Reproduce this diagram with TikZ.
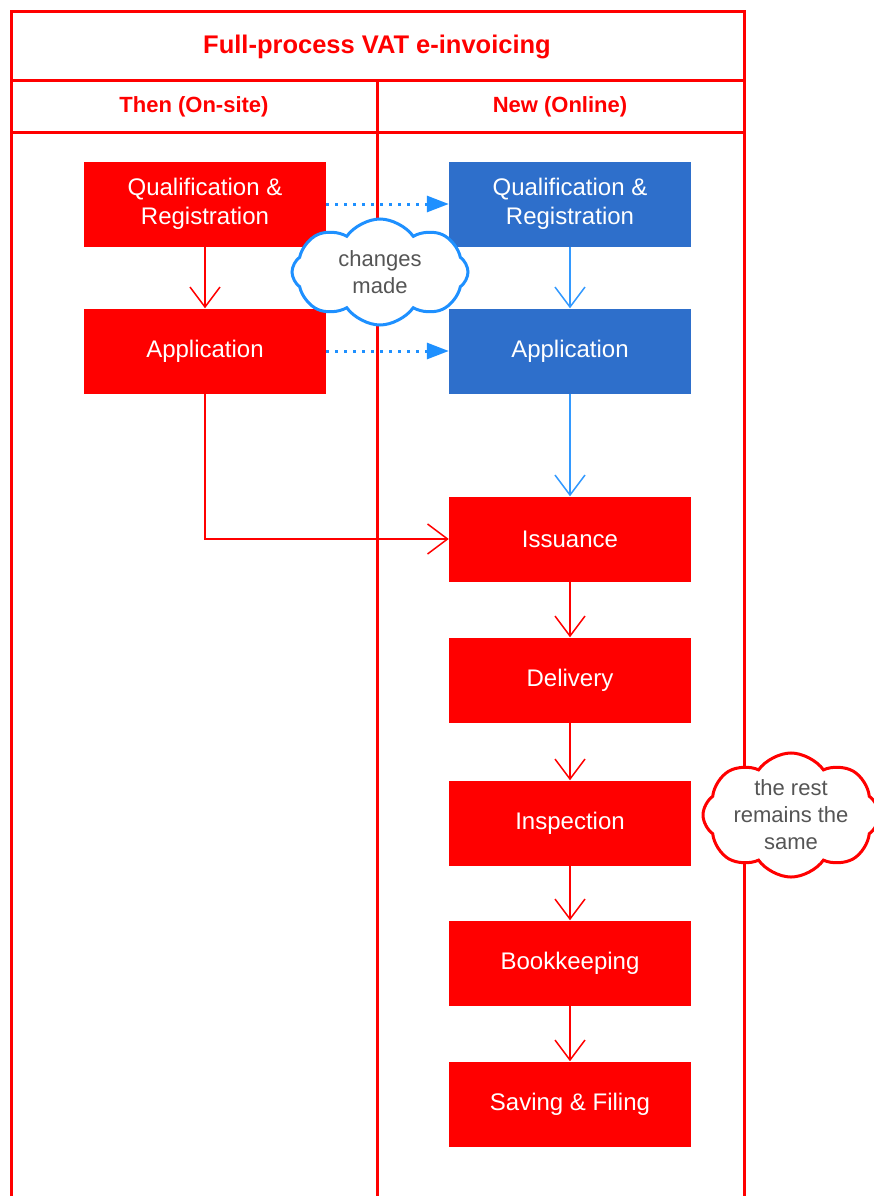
\documentclass[tikz,border=0pt]{standalone}
\usepackage{fontspec}
\setmainfont{Liberation Sans}
\usepackage{tikz}
\usetikzlibrary{arrows.meta,positioning,shapes.symbols}
\definecolor{laneC}{RGB}{255,0,0}
\definecolor{onlineC}{RGB}{46,111,203}
\definecolor{flowBlue}{RGB}{51,153,255}
\definecolor{dotBlue}{RGB}{30,144,255}
\definecolor{noteGray}{RGB}{85,85,85}

\tikzset{
  stepbox/.style={rectangle, fill=laneC, text=white, inner sep=0pt,
    minimum width=242pt, minimum height=85pt, align=center,
    font=\fontsize{24}{29}\selectfont},
  onlinebox/.style={stepbox, fill=onlineC},
  redflow/.style={laneC, line width=1.5pt,
    -{Straight Barb[length=20pt,width=30pt]}},
  blueflow/.style={redflow, flowBlue},
  changeflow/.style={dotBlue, line width=3pt, dash pattern=on 3pt off 6pt,
    -{Triangle[length=22pt,width=16pt]}},
  notecloud/.style={cloud, cloud puffs=8, cloud puff arc=110,
    cloud ignores aspect, fill=white,
    line width=3pt, text=noteGray, align=center, inner sep=0pt,
    minimum width=176pt, minimum height=106pt,
    font=\fontsize{22}{27}\selectfont}
}

\begin{document}
\begin{tikzpicture}[x=1pt,y=-1pt]
  \useasboundingbox (0,0) rectangle (873,1196);

  % Swimlane frame
  \draw[laneC,line width=3pt] (11,1196) -- (11,12) -- (744,12) -- (744,1196);
  \draw[laneC,line width=3pt] (11,81) -- (744,81);
  \draw[laneC,line width=3pt] (11,133) -- (744,133);
  \draw[laneC,line width=3pt] (377,81) -- (377,1196);

  % Titles
  \node[laneC,font=\fontsize{25.5}{30}\selectfont\bfseries] (title) at (377,47)
    {Full-process VAT e-invoicing};
  \node[laneC,font=\fontsize{22}{26}\selectfont\bfseries] (then) at (194,107)
    {Then (On-site)};
  \node[laneC,font=\fontsize{22}{26}\selectfont\bfseries] (new) at (560,107)
    {New (Online)};

  % Then (on-site) column
  \node[stepbox] (qrOld) at (205,204) {Qualification \&\\Registration};
  \node[stepbox] (appOld) at (205,351) {Application};

  % New (online) column
  \node[onlinebox] (qrNew) at (570,204) {Qualification \&\\Registration};
  \node[onlinebox] (appNew) at (570,351) {Application};
  \node[stepbox] (issue) at (570,539) {Issuance};
  \node[stepbox] (deliver) at (570,680) {Delivery};
  \node[stepbox] (inspect) at (570,823) {Inspection};
  \node[stepbox] (books) at (570,963) {Bookkeeping};
  \node[stepbox] (filing) at (570,1104) {Saving \& Filing};

  % Flows
  \draw[redflow] (qrOld) -- (appOld);
  \draw[redflow] (appOld.south) |- (issue.west);
  \draw[blueflow] (qrNew) -- (appNew);
  \draw[blueflow] (appNew) -- (issue);
  \draw[redflow] (issue) -- (deliver);
  \draw[redflow] (deliver) -- (inspect);
  \draw[redflow] (inspect) -- (books);
  \draw[redflow] (books) -- (filing);

  % Changes
  \draw[changeflow] (qrOld.east) -- (qrNew.west);
  \draw[changeflow] (appOld.east) -- (appNew.west);

  % Notes
  \node[notecloud,draw=dotBlue] (changes) at (380,272) {changes\\made};
  \node[notecloud,draw=laneC] (rest) at (791,815) {the rest\\remains the\\same};
\end{tikzpicture}
\end{document}
